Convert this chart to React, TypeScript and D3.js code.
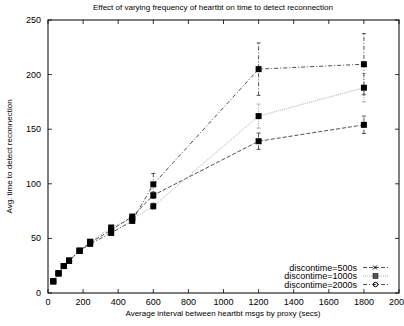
import React from 'react';
import * as d3 from 'd3';

const intervals = [30, 60, 90, 120, 180, 240, 360, 480, 600, 1200, 1800];
const dt500 = [10.7, 18, 24.7, 29.6, 38.7, 46, 57.7, 70, 89.5, 139, 154];
const dt1000 = [10.7, 18, 24.7, 29.6, 38.7, 47, 60, 68, 79.5, 162, 188];
const dt2000 = [10.7, 18, 24.7, 29.6, 38.7, 45, 55, 66, 99.5, 205, 209.5];
const err500 = [0, 0, 0, 0, 0, 0, 0, 0, 3, 7.5, 8];
const err1000 = [0, 0, 0, 0, 0, 0, 0, 0, 3, 11, 13];
const err2000 = [0, 0, 0, 0, 0, 0, 0, 0, 10, 24, 28];
const xTicks = [0, 200, 400, 600, 800, 1000, 1200, 1400, 1600, 1800, 2000];
const yTicks = [0, 50, 100, 150, 200, 250];

const seriesList = [
  { label: 'discontime=500s', values: dt500, err: err500, dash: '4,2', color: '#222', mark: 'x' },
  { label: 'discontime=1000s', values: dt1000, err: err1000, dash: '1,1', color: '#999', mark: 'sq' },
  { label: 'discontime=2000s', values: dt2000, err: err2000, dash: '4,2,1,2', color: '#222', mark: 'o' },
];

const font = 'Liberation Sans, Arial, sans-serif';

export default function App() {
  const left = 48, right = 399, top = 20, bottom = 293;
  const x = d3.scaleLinear().domain([0, 2000]).range([left, right]);
  const y = d3.scaleLinear().domain([0, 250]).range([bottom, top]);
  const line = d3.line<number>().x((_, i) => x(intervals[i])).y((d) => y(d));

  return (
    <svg width={404} height={326} style={{ position: 'absolute', left: 0, top: 0 }} fontFamily={font}>
      <rect width={404} height={326} fill="#fff" />
      <text x={213} y={10} fontSize={8} textAnchor="middle">
        Effect of varying frequency of heartbt on time to detect reconnection
      </text>
      {/* ticks */}
      {xTicks.map((t) => (
        <g key={'x' + t}>
          <line x1={x(t)} x2={x(t)} y1={bottom} y2={bottom - 4} stroke="#000" strokeWidth={0.8} />
          <line x1={x(t)} x2={x(t)} y1={top} y2={top + 4} stroke="#000" strokeWidth={0.8} />
          <text x={x(t)} y={bottom + 12} fontSize={9} textAnchor="middle">{t}</text>
        </g>
      ))}
      {yTicks.map((t) => (
        <g key={'y' + t}>
          <line x1={left} x2={left + 4} y1={y(t)} y2={y(t)} stroke="#000" strokeWidth={0.8} />
          <line x1={right} x2={right - 4} y1={y(t)} y2={y(t)} stroke="#000" strokeWidth={0.8} />
          <text x={left - 7} y={y(t) + 3} fontSize={9} textAnchor="end">{t}</text>
        </g>
      ))}
      <rect x={left} y={top} width={right - left} height={bottom - top} fill="none" stroke="#000" strokeWidth={1} />
      <text x={223} y={316} fontSize={8} textAnchor="middle">
        Average interval between heartbt msgs by proxy (secs)
      </text>
      <text transform={`translate(12,${(top + bottom) / 2}) rotate(-90)`} fontSize={8} textAnchor="middle">
        Avg. time to detect reconnection
      </text>
      {/* series */}
      {seriesList.map((s) => (
        <g key={s.label}>
          <path d={line(s.values) || ''} fill="none" stroke={s.color} strokeWidth={0.8} strokeDasharray={s.dash} />
          {s.values.map((v, i) =>
            s.err[i] > 0 ? (
              <g key={'e' + i}>
                <line x1={x(intervals[i])} x2={x(intervals[i])} y1={y(v - s.err[i])} y2={y(v + s.err[i])}
                  stroke={s.color} strokeWidth={0.8} strokeDasharray={s.dash} />
                <line x1={x(intervals[i]) - 2} x2={x(intervals[i]) + 2} y1={y(v - s.err[i])} y2={y(v - s.err[i])} stroke={s.color} strokeWidth={0.8} />
                <line x1={x(intervals[i]) - 2} x2={x(intervals[i]) + 2} y1={y(v + s.err[i])} y2={y(v + s.err[i])} stroke={s.color} strokeWidth={0.8} />
              </g>
            ) : null
          )}
          {s.values.map((v, i) => (
            <rect key={'m' + i} x={x(intervals[i]) - 3} y={y(v) - 3} width={6} height={6} fill="#000" />
          ))}
        </g>
      ))}
      {/* legend */}
      {seriesList.map((s, i) => {
        const ly = 267.5 + i * 8.5;
        return (
          <g key={'l' + s.label}>
            <text x={357} y={ly + 3} fontSize={9} textAnchor="end">{s.label}</text>
            <line x1={363} x2={388} y1={ly} y2={ly} stroke={s.color} strokeWidth={0.8} strokeDasharray={s.dash} />
            {s.mark === 'x' && (
              <path d={`M373,${ly - 2}L377,${ly + 2}M373,${ly + 2}L377,${ly - 2}`} stroke="#000" strokeWidth={1} />
            )}
            {s.mark === 'sq' && <rect x={373} y={ly - 2.5} width={5} height={5} fill="#555" stroke="#000" strokeWidth={0.5} />}
            {s.mark === 'o' && <circle cx={375.5} cy={ly} r={2.2} fill="none" stroke="#000" strokeWidth={1} />}
          </g>
        );
      })}
    </svg>
  );
}
